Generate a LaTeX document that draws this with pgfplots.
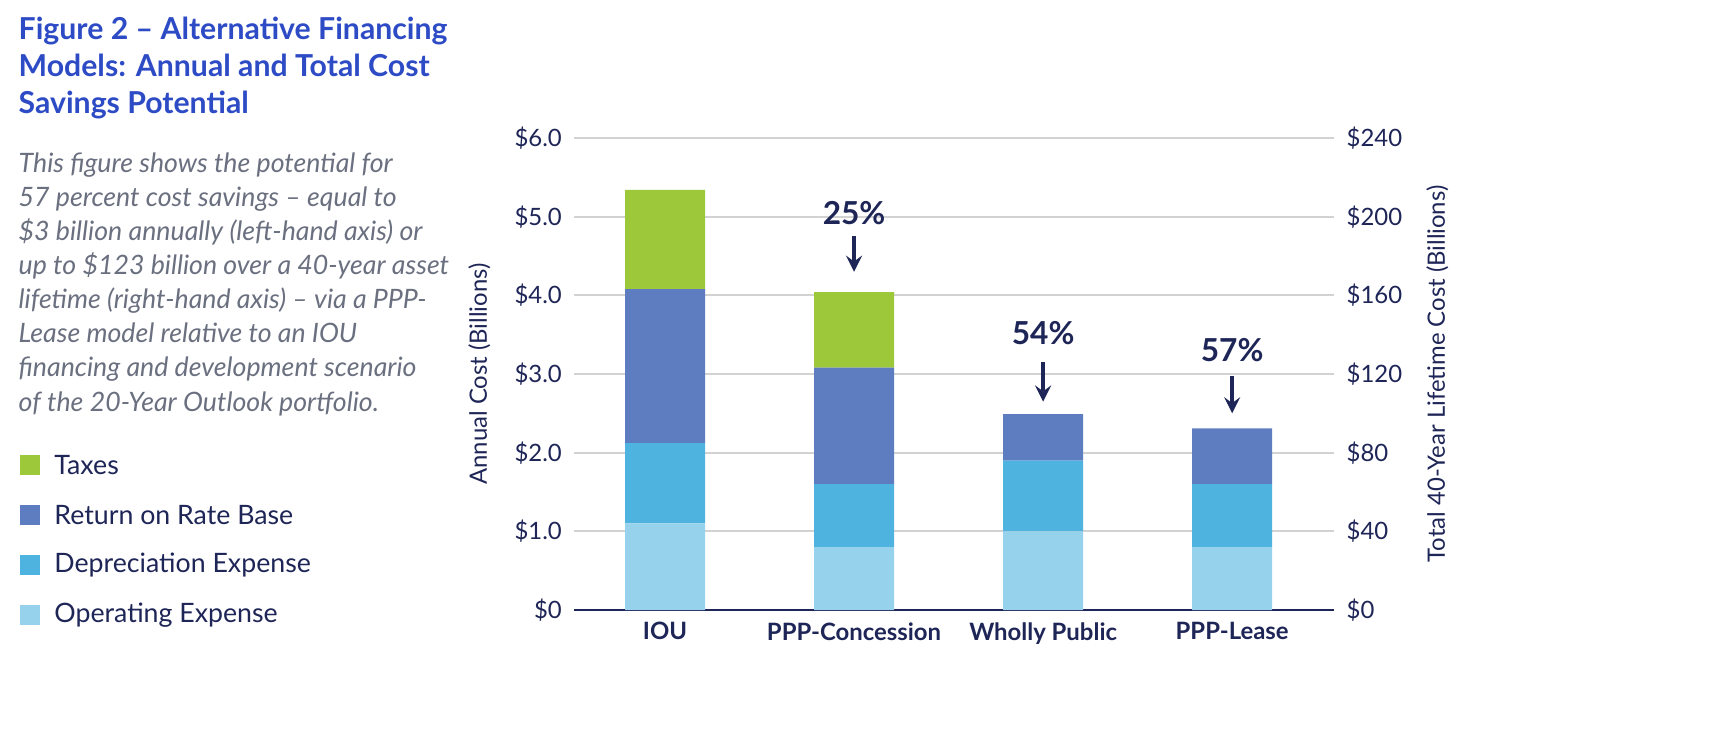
\documentclass[border=0pt]{standalone}
\usepackage{pgfplots}
\pgfplotsset{compat=1.18}
\usepackage{fontspec}
\setmainfont{Lato}
\definecolor{taxc}{HTML}{9DC83A}
\definecolor{retc}{HTML}{5E7DC0}
\definecolor{depc}{HTML}{4FB3E0}
\definecolor{opc}{HTML}{96D2EC}
\definecolor{titc}{HTML}{2E4BC6}
\definecolor{navy}{HTML}{1E2557}
\definecolor{graytxt}{HTML}{6B7080}
\begin{document}
\begin{tikzpicture}
\path[fill=white] (0,0) rectangle (17.13,7.30);
% left panel
\node[anchor=north west,align=left,font=\fontsize{8.6}{10.6}\selectfont\bfseries,text=titc,inner sep=0] at (0.18,7.14)
 {Figure 2 -- Alternative Financing\\Models: Annual and Total Cost\\Savings Potential};
\node[anchor=north west,align=left,font=\fontsize{7.6}{9.7}\selectfont\itshape,text=graytxt,inner sep=0] at (0.18,5.78)
 {This figure shows the potential for\\57 percent cost savings -- equal to\\\$3 billion annually (left-hand axis) or\\up to \$123 billion over a 40-year asset\\lifetime (right-hand axis) -- via a PPP-\\Lease model relative to an IOU\\financing and development scenario\\of the 20-Year Outlook portfolio.};
\foreach \c/\t/\y in {taxc/Taxes/2.65,retc/Return on Rate Base/2.15,depc/Depreciation Expense/1.65,opc/Operating Expense/1.15}{
  \fill[\c] (0.20,\y-0.10) rectangle (0.40,\y+0.10);
  \node[anchor=west,font=\fontsize{7.6}{9}\selectfont,text=navy] at (0.42,\y) {\t};
}
\begin{axis}[at={(6.65cm,1.20cm)},anchor=origin,scale only axis,width=7.60cm,height=4.72cm,
  ybar stacked,bar width=0.8cm,
  xmin=-0.48,xmax=3.54,ymin=0,ymax=6,
  xtick=data,xticklabels={IOU,PPP-Concession,Wholly Public,PPP-Lease},
  xticklabel style={font=\fontsize{6.8}{8}\selectfont\bfseries,text=navy},
  ytick={0,1,2,3,4,5,6},yticklabels={\$0,\$1.0,\$2.0,\$3.0,\$4.0,\$5.0,\$6.0},
  yticklabel style={font=\fontsize{6.8}{8}\selectfont,text=navy},
  ylabel={Annual Cost (Billions)},ylabel style={font=\fontsize{6.8}{8}\selectfont,text=navy},
  ymajorgrids,grid style={gray!35,line width=0.6pt},
  axis x line*=bottom,axis y line*=left,y axis line style={draw=none},
  x axis line style={navy,line width=0.8pt,-},
  major tick length=0pt,
  /pgf/number format/assume math mode=true,
  clip=false]
\addplot[fill=opc,draw=none] coordinates {(0,1.1) (1,0.8) (2,1.0) (3,0.8)};
\addplot[fill=depc,draw=none] coordinates {(0,1.02) (1,0.8) (2,0.9) (3,0.8)};
\addplot[fill=retc,draw=none] coordinates {(0,1.96) (1,1.48) (2,0.59) (3,0.71)};
\addplot[fill=taxc,draw=none] coordinates {(0,1.26) (1,0.96) (2,0) (3,0)};
\foreach \xx/\lab/\yt/\ya/\yb in {1/25\%/5.05/4.75/4.30,2/54\%/3.52/3.15/2.65,3/57\%/3.30/2.97/2.50}{
  \edef\tmp{\noexpand\node[font=\noexpand\fontsize{9}{11}\noexpand\selectfont\noexpand\bfseries,text=navy] at (axis cs:\xx,\yt) {\lab};
  \noexpand\draw[->,navy,line width=1pt,>=stealth] (axis cs:\xx,\ya) -- (axis cs:\xx,\yb);}
  \tmp
}
\end{axis}
\begin{axis}[at={(6.65cm,1.20cm)},anchor=origin,scale only axis,width=7.60cm,height=4.72cm,
  xmin=-0.48,xmax=3.54,ymin=0,ymax=240,
  axis x line=none,axis y line*=right,y axis line style={draw=none},
  ytick={0,40,80,120,160,200,240},yticklabels={\$0,\$40,\$80,\$120,\$160,\$200,\$240},
  yticklabel style={font=\fontsize{6.8}{8}\selectfont,text=navy},
  ylabel={Total 40-Year Lifetime Cost (Billions)},ylabel style={font=\fontsize{6.8}{8}\selectfont,text=navy},
  major tick length=0pt]
\addplot[draw=none] coordinates {(0,0)};
\end{axis}
\pgfresetboundingbox
\path (0,0) rectangle (17.13,7.30);
\end{tikzpicture}
\end{document}
